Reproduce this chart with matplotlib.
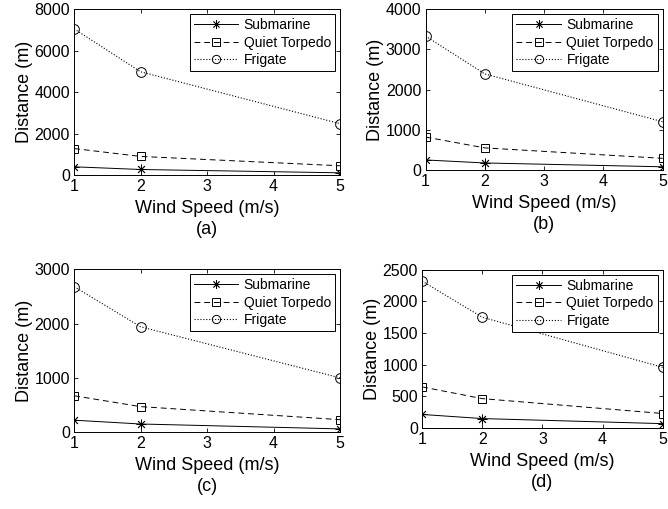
import matplotlib
matplotlib.use('Agg')
import matplotlib.pyplot as plt

plt.rcParams['font.family'] = ['Liberation Sans', 'DejaVu Sans']

wind = [1, 2, 5]
xticks = [1, 2, 3, 4, 5]

# (a)
sub_a = [400, 270, 110]
torp_a = [1280, 900, 450]
frig_a = [7050, 4980, 2480]
# (b)
sub_b = [250, 175, 80]
torp_b = [820, 550, 290]
frig_b = [3330, 2390, 1200]
# (c)
sub_c = [220, 150, 60]
torp_c = [670, 470, 230]
frig_c = [2680, 1940, 1000]
# (d)
sub_d = [215, 150, 70]
torp_d = [650, 465, 230]
frig_d = [2320, 1750, 960]

panels = [
    ('(a)', sub_a, torp_a, frig_a, 8000, [0, 2000, 4000, 6000, 8000]),
    ('(b)', sub_b, torp_b, frig_b, 4000, [0, 1000, 2000, 3000, 4000]),
    ('(c)', sub_c, torp_c, frig_c, 3000, [0, 1000, 2000, 3000]),
    ('(d)', sub_d, torp_d, frig_d, 2500, [0, 500, 1000, 1500, 2000, 2500]),
]

# axes rectangles (left, bottom, width, height) in figure fractions
rects = [
    [0.111, 0.656, 0.398, 0.326],
    [0.637, 0.666, 0.355, 0.316],
    [0.111, 0.151, 0.398, 0.320],
    [0.632, 0.159, 0.360, 0.311],
]

# MATLAB-like asterisk (+ and x overlaid)
star = (8, 2, 0)

fig = plt.figure(figsize=(6.68, 5.09), dpi=100)

for (tag, sub, torp, frig, ymax, yt), r in zip(panels, rects):
    ax = fig.add_axes(r)
    ax.plot(wind, sub, '-', color='black', lw=0.7, marker=star, ms=7,
            mew=0.6, label='Submarine')
    ax.plot(wind, torp, '--', color='black', lw=0.7, marker='s', ms=6,
            mfc='none', mew=0.7, dashes=(6, 4), label='Quiet Torpedo')
    ax.plot(wind, frig, ':', color='black', lw=0.8, marker='o', ms=7,
            mfc='none', mew=0.7, label='Frigate')
    ax.set_xlim(1, 5)
    ax.set_ylim(0, ymax)
    ax.set_xticks(xticks)
    ax.set_yticks(yt)
    ax.tick_params(direction='in', top=True, right=True, labelsize=11.5,
                   length=3, width=0.6, pad=3)
    for s in ax.spines.values():
        s.set_linewidth(0.7)
    ax.set_xlabel('Wind Speed (m/s)', fontsize=13, labelpad=4)
    ax.set_ylabel('Distance (m)', fontsize=13, labelpad=1)
    leg = ax.legend(loc='upper right', fontsize=10, fancybox=False,
                    framealpha=1, edgecolor='black', borderaxespad=0.35,
                    handlelength=3.2, handletextpad=0.4, borderpad=0.3,
                    labelspacing=0.25, markerscale=0.85)
    leg.get_frame().set_linewidth(0.7)
    ax.annotate(tag, xy=(0.5, 0), xycoords='axes fraction',
                xytext=(0, -39), textcoords='offset points',
                ha='center', va='center', fontsize=13)

fig.savefig('out.png', dpi=100)
